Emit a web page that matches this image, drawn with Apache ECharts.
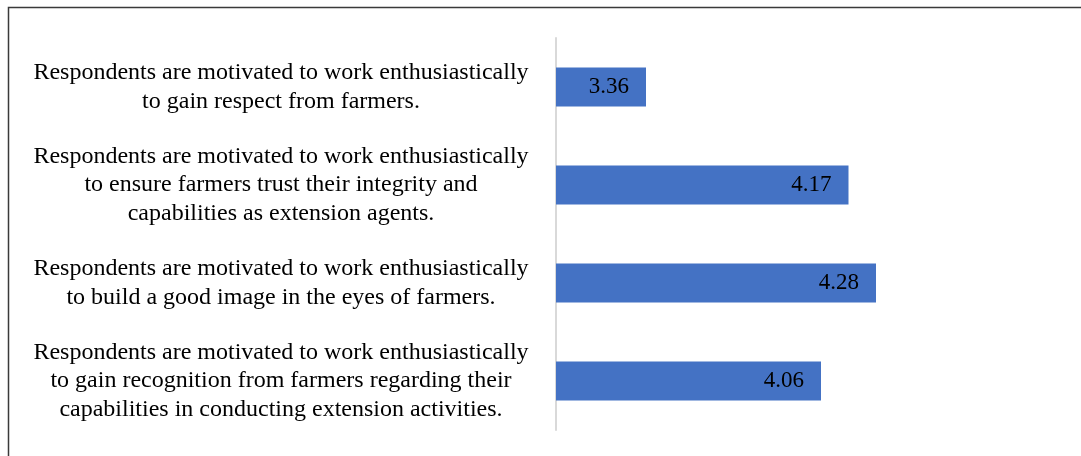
<!DOCTYPE html>
<html>
<head>
<meta charset="utf-8">
<style>
html,body{margin:0;padding:0;background:#fff;}
#chart{width:1081px;height:456px;}
</style>
<script src="https://cdn.jsdelivr.net/npm/echarts@6/dist/echarts.min.js"></script>
</head>
<body>
<div id="chart"></div>
<script>
const categories = [
  "Respondents are motivated to work enthusiastically\nto gain respect from farmers.",
  "Respondents are motivated to work enthusiastically\nto ensure farmers trust their integrity and\ncapabilities as extension agents.",
  "Respondents are motivated to work enthusiastically\nto build a good image in the eyes of farmers.",
  "Respondents are motivated to work enthusiastically\nto gain recognition from farmers regarding their\ncapabilities in conducting extension activities."
];
const values = [3.36, 4.17, 4.28, 4.06];

const chart = echarts.init(document.getElementById('chart'));
chart.setOption({
  animation: false,
  backgroundColor: '#fff',
  graphic: [{
    type: 'rect',
    shape: {x: 8.5, y: 7.5, width: 1200, height: 600},
    style: {fill: 'none', stroke: '#3a3a3a', lineWidth: 1.5},
    silent: true
  }],
  grid: {left: 556, right: 25, top: 38, bottom: 26},
  xAxis: {
    type: 'value', min: 3, max: 5,
    show: false,
    splitLine: {show: false}
  },
  yAxis: {
    type: 'category', data: categories, inverse: true,
    axisLine: {lineStyle: {color: '#d9d9d9', width: 2}},
    axisTick: {show: false},
    axisLabel: {
      align: 'center', margin: 275,
      fontFamily: 'Liberation Serif', fontSize: 24, lineHeight: 28.5,
      padding: [6, 0, 0, 0],
      color: '#000'
    }
  },
  series: [{
    type: 'bar', data: values,
    barCategoryGap: '60%',
    itemStyle: {color: '#4472C4'},
    label: {
      show: true, position: 'insideRight', distance: 17,
      fontFamily: 'Liberation Serif', fontSize: 23, color: '#000',
      padding: [3, 0, 0, 0],
      formatter: p => p.value.toFixed(2)
    }
  }]
});
</script>
</body>
</html>
